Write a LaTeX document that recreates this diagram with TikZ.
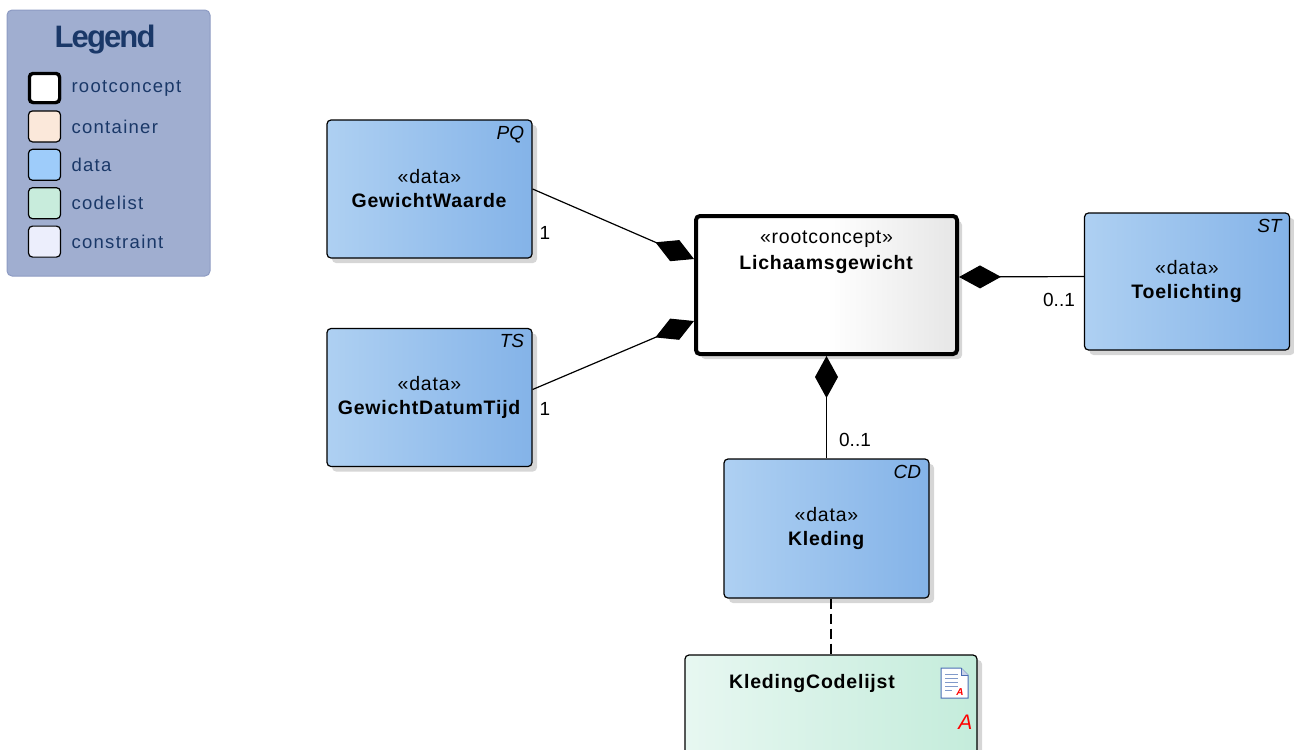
\documentclass[tikz,border=0pt]{standalone}
\usepackage{fontspec}
\setmainfont{Liberation Sans}
\usepackage{tikz}
\usetikzlibrary{positioning,arrows.meta,shapes,calc,shadows}

\definecolor{legendbg}{HTML}{A0AED0}
\definecolor{legendline}{HTML}{8D9BC3}
\definecolor{legendtxt}{HTML}{1A3868}
\definecolor{dataL}{HTML}{AED0F2}
\definecolor{dataR}{HTML}{84B3E8}
\definecolor{codeL}{HTML}{E7F7F1}
\definecolor{codeR}{HTML}{C4ECDB}
\definecolor{rootR}{HTML}{E6E6E6}
\definecolor{iconblue}{HTML}{4B6EB4}

\begin{document}
\begin{tikzpicture}[x=1pt,y=-1pt,
    classbox/.style={draw=black, line width=1.2pt, rounded corners=4pt,
        minimum width=205pt, minimum height=138pt, align=center,
        font=\fontsize{19.5}{24}\selectfont\addfontfeatures{LetterSpace=4},
        drop shadow={shadow xshift=5pt,shadow yshift=-5pt,fill=black!16,opacity=1}},
    databox/.style={classbox, left color=dataL, right color=dataR},
    corner/.style={anchor=north east, xshift=-5pt, yshift=-3pt,
        font=\fontsize{19}{19}\selectfont\itshape},
    comp/.style={{Diamond[length=42pt,width=23pt]}-, line width=1.2pt},
    mult/.style={font=\fontsize{19}{19}\selectfont},
    swatch/.style={draw=black, line width=1.2pt, rounded corners=4pt,
        minimum width=32pt, minimum height=31pt},
    legtext/.style={anchor=west, text=legendtxt, font=\fontsize{18.5}{18.5}\selectfont\addfontfeatures{LetterSpace=7}}]

    \useasboundingbox (0,0) rectangle (1294,750);

    % Legend
    \draw[legendline, fill=legendbg, rounded corners=5pt, line width=1pt] (7,10) rectangle (210,276);
    \node[text=legendtxt, font=\fontsize{31}{31}\selectfont\bfseries\addfontfeatures{LetterSpace=-6}] (legtitle) at (105,40) {Legend};
    \foreach \name/\col [count=\i] in {rootconcept/white, container/{rgb,255:red,251;green,232;blue,218},
        data/{rgb,255:red,158;green,204;blue,250}, codelist/{rgb,255:red,200;green,236;blue,220},
        constraint/{rgb,255:red,236;green,238;blue,252}} {
        \node[swatch, fill=\col] (sw\i) at (44.5,49.6+38.4*\i) {};
        \node[legtext] (lt\i) at (68,49.6+38.4*\i) {\name};
    }
    \node[swatch, fill=white, line width=3pt, minimum width=30pt, minimum height=29pt] at (sw1) {};

    % Classes
    \node[databox] (waarde) at (429.5,189) {«data»\\\textbf{GewichtWaarde}};
    \node[databox] (datum) at (429.5,397.5) {«data»\\\textbf{GewichtDatumTijd}};
    \node[databox, minimum height=137pt] (toel) at (1187,281.5) {«data»\\\textbf{Toelichting}};
    \node[databox, minimum height=139pt] (kled) at (826.5,528.5) {«data»\\\textbf{Kleding}};
    \node[corner] at (waarde.north east) {PQ};
    \node[corner] at (datum.north east) {TS};
    \node[corner] at (toel.north east) {ST};
    \node[corner] at (kled.north east) {CD};

    % Root concept
    \node[classbox, line width=4pt, minimum width=261pt, left color=white, right color=rootR, middle color=white] (root) at (826.5,285) {};
    \node[font=\fontsize{19.5}{26}\selectfont\addfontfeatures{LetterSpace=4}, align=center] (roottxt) at ($(root.north)+(0,38)$) {«rootconcept»\\\textbf{Lichaamsgewicht}};

    % Codelist
    \node[classbox, minimum width=292pt, minimum height=110pt, left color=codeL, right color=codeR] (code) at (831,710) {};
    \node[font=\fontsize{19.5}{24}\selectfont\bfseries\addfontfeatures{LetterSpace=4}] (codetxt) at ($(code.north)+(-19,29)$) {KledingCodelijst};
    \node[anchor=east, text=red, font=\fontsize{21}{21}\selectfont\itshape] (codeA) at (976,722) {A};

    % Codelist icon
    \draw[iconblue, fill=white, line width=1pt] (941,668) -- (961,668) -- (968,675) -- (968,698) -- (941,698) -- cycle;
    \draw[iconblue, fill=iconblue!30, line width=0.8pt] (961,668) -- (961,675) -- (968,675);
    \foreach \yy in {674,678,682,686} \draw[iconblue!70, line width=1pt] (945,\yy) -- (958,\yy);
    \draw[iconblue!70, line width=1pt] (945,690) -- (952,690);
    \node[text=red, font=\fontsize{10}{10}\selectfont\bfseries\itshape] (iconA) at (960,692) {A};

    % Associations
    \draw[comp] ($(root.north west)+(0,45)$) -- (waarde.east);
    \draw[comp] ($(root.south west)+(0,-35)$) -- ($(datum.east)+(0,-8)$);
    \draw[comp] ($(root.east)+(0,-8)$) -- ($(toel.west)+(0,-5)$);
    \draw[comp] (root.south) -- (kled.north);
    \draw[line width=1.2pt, dash pattern=on 10pt off 5pt] (code.north |- kled.south) -- (code.north);

    % Multiplicities
    \node[mult] (m1) at (545,233) {1};
    \node[mult] (m2) at (545,409) {1};
    \node[mult] (m3) at (1059,300) {0..1};
    \node[mult] (m4) at (855,440) {0..1};
\end{tikzpicture}
\end{document}
